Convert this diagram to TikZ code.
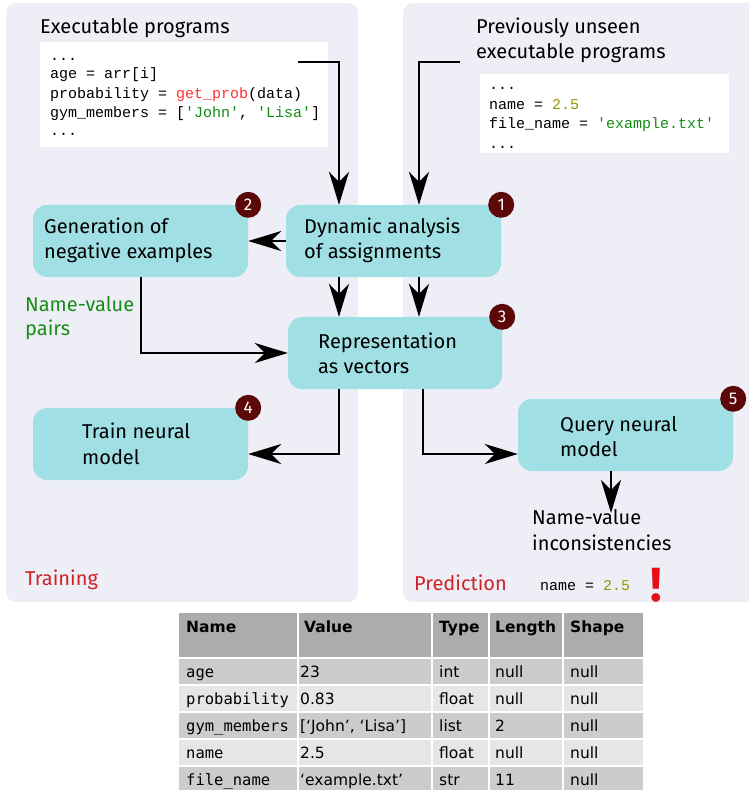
\documentclass[tikz,border=0pt]{standalone}
\usepackage{fontspec}
\setmainfont{Fira Sans}
\newfontfamily\codefont{Liberation Mono}
\newfontfamily\tabfont{DejaVu Sans}
\newfontfamily\tabmono{DejaVu Sans Mono}
\usetikzlibrary{arrows.meta}

\definecolor{panelbg}{RGB}{238,238,246}
\definecolor{boxfill}{RGB}{160,224,228}
\definecolor{badgefill}{RGB}{92,8,8}
\definecolor{labgreen}{RGB}{24,140,24}
\definecolor{labred}{RGB}{204,34,40}
\definecolor{bangred}{RGB}{228,16,24}
\definecolor{codered}{RGB}{255,48,48}
\definecolor{codegreen}{RGB}{20,140,20}
\definecolor{codeolive}{RGB}{150,150,0}
\definecolor{tabhead}{RGB}{172,172,172}
\definecolor{tabdark}{RGB}{204,204,204}
\definecolor{tablight}{RGB}{230,230,230}

\tikzset{
  panel/.style={fill=panelbg, rounded corners=10pt},
  stepbox/.style={fill=boxfill, rounded corners=14pt, minimum width=215pt, minimum height=72pt, inner sep=0pt},
  codebox/.style={fill=white, inner sep=0pt},
  badge/.style={circle, fill=badgefill, text=white, minimum size=26pt, inner sep=0pt,
    font=\fontsize{17}{17}\selectfont},
  txt/.style={inner sep=0pt, anchor=base west, font=\fontsize{20}{24}\selectfont},
  code/.style={inner sep=0pt, anchor=base west, font=\codefont\fontsize{15}{19}\selectfont},
  arr/.style={line width=2pt, -{Stealth[length=33pt, width=20pt, inset=10pt]}},
  cell/.style={draw=white, line width=1.5pt},
  th/.style={inner sep=0pt, anchor=base west, font=\tabfont\bfseries\fontsize{15.5}{18}\selectfont},
  td/.style={inner sep=0pt, anchor=base west, font=\tabfont\fontsize{15.5}{18}\selectfont},
  tdm/.style={inner sep=0pt, anchor=base west, font=\tabmono\fontsize{15.5}{18}\selectfont},
}

\begin{document}
\begin{tikzpicture}[x=1pt, y=-1pt]
\useasboundingbox (0,0) rectangle (749,790);

% the two phases
\fill[panel] (6,3) rectangle (358,602);
\fill[panel] (403,3) rectangle (770,602);

% training inputs
\node[txt] (ttl1) at (40,33) {Executable programs};
\node[codebox, minimum width=288pt, minimum height=105pt] (code1) at (184,94.5) {};
\node[code] at (50,60) {...};
\node[code] at (50,78.5) {age = arr[i]};
\node[code] at (50,98) {probability = \textcolor{codered}{get\_prob}(data)};
\node[code] at (50,117) {gym\_members = [\textcolor{codegreen}{'John'}, \textcolor{codegreen}{'Lisa'}]};
\node[code] at (50,135) {...};

% prediction inputs
\node[txt] (ttl2a) at (476,33) {Previously unseen};
\node[txt] (ttl2b) at (476,58) {executable programs};
\node[codebox, minimum width=249pt, minimum height=79pt] (code2) at (604.5,113.5) {};
\node[code] at (489,89) {...};
\node[code] at (489,109) {name = \textcolor{codeolive}{2.5}};
\node[code] at (489,128) {file\_name = \textcolor{codegreen}{'example.txt'}};
\node[code] at (489,148) {...};

% processing steps
\node[stepbox] (gen) at (140.5,241) {};
\node[stepbox] (dyn) at (393.5,241) {};
\node[stepbox, minimum width=214pt] (rep) at (395,353) {};
\node[stepbox] (train) at (140.5,444) {};
\node[stepbox] (query) at (625.5,435) {};

\node[txt] at (44,233) {Generation of};
\node[txt] at (44,258) {negative examples};
\node[txt] at (304,233) {Dynamic analysis};
\node[txt] at (304,258) {of assignments};
\node[txt] at (318,348) {Representation};
\node[txt] at (318,373) {as vectors};
\node[txt] at (82,438) {Train neural};
\node[txt] at (82,464) {model};
\node[txt] at (560,431) {Query neural};
\node[txt] at (560,456) {model};

% step numbers
\node[badge] (b1) at (dyn.north east) {1};
\node[badge] (b2) at (gen.north east) {2};
\node[badge] (b3) at (rep.north east) {3};
\node[badge] (b4) at (train.north east) {4};
\node[badge] (b5) at (query.north east) {5};

% side labels
\node[txt, text=labgreen] (pairs1) at (25,311) {Name-value};
\node[txt, text=labgreen] (pairs2) at (25,335) {pairs};
\node[txt] (inc1) at (532,524) {Name-value};
\node[txt] (inc2) at (532,550) {inconsistencies};
\node[txt, text=labred] (lt) at (25,585) {Training};
\node[txt, text=labred] (lp) at (414,590) {Prediction};
\node[code, font=\codefont\fontsize{15}{18}\selectfont] (warn) at (540,590) {name = \textcolor{codeolive}{2.5}};
\node[inner sep=0pt, anchor=base west, text=bangred, font=\bfseries\fontsize{48}{48}\selectfont] (bang) at (650,601) {!};

% connectors
\coordinate (c1) at (298,62);
\coordinate (c2) at (460,62);
\coordinate (a1) at (339,0);
\coordinate (a2) at (419,0);
\coordinate (a3) at (423,0);
\coordinate (r1) at (0,454);
\coordinate (qend) at (611,513);

\draw[arr] (c1) -| (dyn.north -| a1);
\draw[arr] (c2) -| (dyn.north -| a2);
\draw[arr] (dyn.west) -- (gen.east);
\draw[arr] (dyn.south -| a1) -- (rep.north -| a1);
\draw[arr] (dyn.south -| a2) -- (rep.north -| a2);
\draw[arr] (gen.south) |- (rep.west);
\draw[arr] (rep.south -| a1) |- (train.east |- r1);
\draw[arr] (rep.south -| a3) |- (query.west |- r1);
\draw[arr] (query.south -| qend) -- (qend);

% table of observed assignments
\fill[tabhead] (179,613) rectangle (643,658);
\foreach \y/\c in {658/tabdark,685/tablight,712/tabdark,739/tablight,766/tabdark}{
  \fill[\c] (179,\y) rectangle (643,\y+27);
}
\foreach \y in {658,685,712,739,766}{
  \draw[cell] (179,\y) -- (643,\y);
}
\foreach \x in {298,432,489,563}{
  \draw[cell] (\x,613) -- (\x,793);
}

\node[th] at (186,632) {Name};
\node[th] at (304,632) {Value};
\node[th] at (439,632) {Type};
\node[th] at (495,632) {Length};
\node[th] at (570,632) {Shape};

\foreach \y/\n/\v/\t/\l in {
  677/age/23/int/null,
  704/probability/0.83/float/null,
  731/gym\_members/{[‘John’, ‘Lisa’]}/list/2,
  758/name/2.5/float/null,
  785/file\_name/{‘example.txt’}/str/11}{
  \node[tdm] at (186,\y) {\n};
  \node[td] at (300,\y) {\v};
  \node[td] at (439,\y) {\t};
  \node[td] at (495,\y) {\l};
  \node[td] at (570,\y) {null};
}
\end{tikzpicture}
\end{document}
